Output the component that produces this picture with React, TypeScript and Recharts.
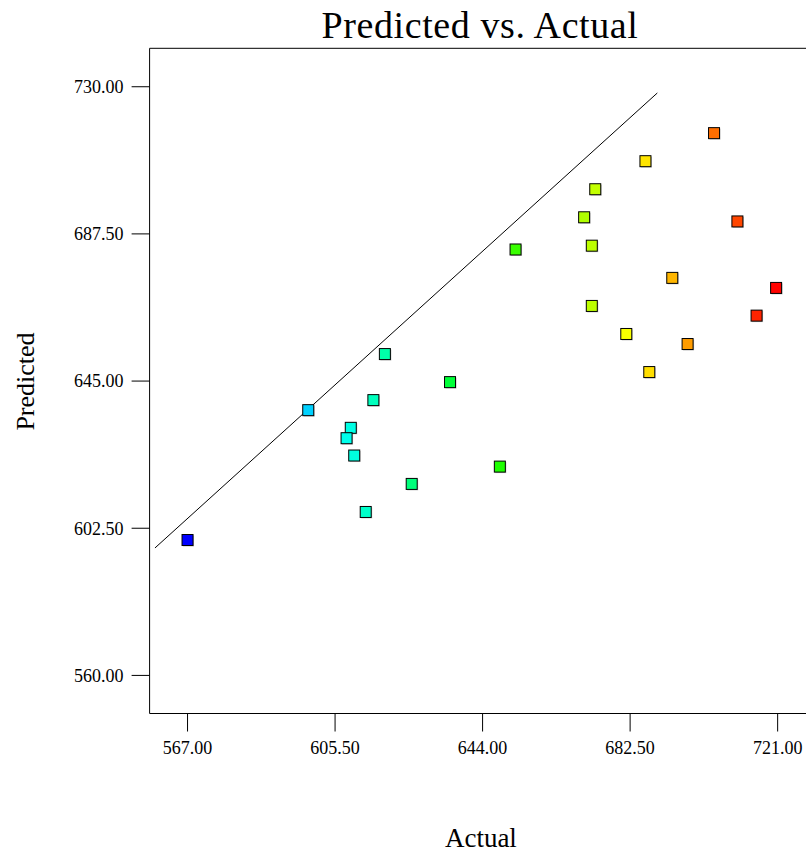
import { ScatterChart, Scatter, XAxis, YAxis, ReferenceLine } from "recharts"

// actual vs predicted runs
const actual = [
  567.0, 598.5, 618.5, 615.5, 609.6, 608.5, 610.5, 635.5, 625.5, 613.5,
  704.4, 686.5, 673.4, 670.5, 710.5, 672.5, 652.6, 693.5, 720.6, 672.5,
  715.5, 681.5, 697.5, 687.5, 648.5,
]
const predicted = [
  599.1, 636.6, 652.8, 639.5, 631.5, 628.5, 623.5, 644.7, 615.3, 607.2,
  716.6, 708.5, 700.4, 692.3, 691.1, 684.1, 683.0, 674.8, 671.9, 666.7,
  663.9, 658.6, 655.7, 647.6, 620.3,
]

const xTicks = [567.0, 605.5, 644.0, 682.5, 721.0]
const yTicks = [560.0, 602.5, 645.0, 687.5, 730.0]
const xDomain = [557.1, 728.4]
const yDomain = [549.0, 741.1]

// the diagonal reference line as drawn
const lineStart = { x: 558.5, y: 596.8 }
const lineEnd = { x: 689.6, y: 728.2 }

const points = actual.map((a, i) => ({ actual: a, predicted: predicted[i] }))

const FONT = "'Liberation Serif', 'Times New Roman', serif"

// rainbow colour by actual value: blue (low) -> red (high)
function colorFor(v: number) {
  const t = Math.min(1, Math.max(0, (v - xTicks[0]) / (xTicks[4] - xTicks[0])))
  return `hsl(${240 * (1 - t)}, 100%, 50%)`
}

function Square(props: any) {
  const { cx, cy, payload } = props
  if (cx == null || cy == null) return null
  return (
    <g>
      <rect x={cx - 4.5} y={cy - 4.5} width={11} height={11} fill="#888" opacity={0.45} />
      <rect
        x={cx - 5.5}
        y={cy - 5.5}
        width={11}
        height={11}
        fill={colorFor(payload.actual)}
        stroke="#000"
        strokeWidth={1}
      />
    </g>
  )
}

export default function App() {
  const tickStyle = { fontSize: 18, fill: "#000", fontFamily: FONT }
  return (
    <div
      style={{
        position: "absolute",
        left: 0,
        top: 0,
        width: 806,
        height: 855,
        overflow: "hidden",
        fontFamily: FONT,
        background: "#fff",
      }}
    >
      <ScatterChart
        width={806}
        height={855}
        margin={{ top: 48.3, right: 0, bottom: 81.5, left: 89.6 }}
        style={{ fontFamily: FONT, overflow: "visible" }}
      >
        <XAxis
          type="number"
          dataKey="actual"
          domain={xDomain}
          ticks={xTicks}
          tickFormatter={(v: number) => v.toFixed(2)}
          height={60}
          tickSize={18}
          tickMargin={10}
          tick={tickStyle}
          axisLine={{ stroke: "#000", strokeWidth: 1 }}
          tickLine={{ stroke: "#000", strokeWidth: 1 }}
          allowDataOverflow
        />
        <YAxis
          type="number"
          dataKey="predicted"
          domain={yDomain}
          ticks={yTicks}
          tickFormatter={(v: number) => v.toFixed(2)}
          width={60}
          tickSize={18}
          tickMargin={8}
          tick={tickStyle}
          axisLine={{ stroke: "#000", strokeWidth: 1 }}
          tickLine={{ stroke: "#000", strokeWidth: 1 }}
          allowDataOverflow
        />
        <ReferenceLine y={yDomain[1]} stroke="#000" strokeWidth={1} />
        <ReferenceLine
          segment={[lineStart, lineEnd]}
          stroke="#000"
          strokeWidth={1}
          ifOverflow="visible"
        />
        <Scatter data={points} shape={Square} isAnimationActive={false} />
      </ScatterChart>
      <svg
        width={806}
        height={855}
        style={{ position: "absolute", left: 0, top: 0, pointerEvents: "none" }}
      >
        <text
          x={480}
          y={38.3}
          textAnchor="middle"
          fontSize={38}
          letterSpacing={0.6}
          fontFamily={FONT}
          fill="#000"
        >
          Predicted vs. Actual
        </text>
        <text x={480.9} y={846.7} textAnchor="middle" fontSize={27} fontFamily={FONT} fill="#000">
          Actual
        </text>
        <text
          x={33.5}
          y={381.5}
          textAnchor="middle"
          fontSize={26}
          fontFamily={FONT}
          fill="#000"
          transform="rotate(-90, 33.5, 381.5)"
        >
          Predicted
        </text>
      </svg>
    </div>
  )
}
